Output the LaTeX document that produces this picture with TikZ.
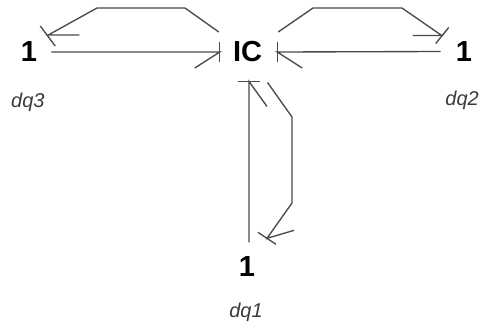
\documentclass[tikz,border=0pt]{standalone}
\usepackage{fontspec}
\setmainfont{Liberation Sans}
\usetikzlibrary{calc}
\definecolor{bondgray}{HTML}{4A4A4A}
\definecolor{labelgray}{HTML}{3A3A3A}
\tikzset{
  junction/.style={inner sep=0pt, font=\fontsize{29}{29}\selectfont\bfseries, text=black},
  varlabel/.style={inner sep=0pt, font=\fontsize{20}{20}\selectfont\itshape, text=labelgray},
  bond/.style={draw=bondgray, line width=1.35pt, line join=miter},
}
\begin{document}
\begin{tikzpicture}[x=1pt, y=-1pt]
\useasboundingbox (0,0) rectangle (480,333);

% elements
\node[junction] (ic) at (247.5,52) {IC};
\node[junction] (j3) at (29,52) {1};
\node[junction] (j2) at (464,51.5) {1};
\node[junction] (j1) at (247,266.5) {1};

\node[varlabel, anchor=west] (l3) at (11,102) {dq3};
\node[varlabel, anchor=east] (l2) at (479,100) {dq2};
\node[varlabel] (l1) at (246,312) {dq1};

% bond 1 --> IC on the left (causal stroke at IC)
\coordinate (a3) at ($(j3.east)+(14,0)$);
\coordinate (b3) at ($(ic.west)+(-13,0)$);
\draw[bond] (a3) -- (b3) -- ++(-25,16);
\draw[bond] ($(b3)+(0,-10)$) -- ($(b3)+(0,10)$);

% bond IC --> 1 on the left, routed over the top
\coordinate (c3) at ($(ic.west)+(-14,-20)$);
\coordinate (d3) at ($(j3.east)+(11,-17)$);
\draw[bond] (c3) -- (185,8) -- (97,8) -- (d3) -- ++(31,0);
\draw[bond] ($(d3)+(-8,-9)$) -- ($(d3)+(7,11)$);

% bond 1 --> IC on the right (causal stroke at IC)
\coordinate (a2) at ($(j2.west)+(-15,0)$);
\coordinate (b2) at ($(ic.east)+(15,0)$);
\draw[bond] (a2) -- (b2) -- ++(25,16);
\draw[bond] ($(b2)+(0,-10)$) -- ($(b2)+(0,10)$);

% bond IC --> 1 on the right, routed over the top
\coordinate (c2) at ($(ic.east)+(16,-20)$);
\coordinate (d2) at ($(j2.west)+(-14,-16)$);
\draw[bond] (c2) -- (313,8) -- (402,8) -- (d2) -- ++(-29,0);
\draw[bond] ($(d2)+(-6,8)$) -- ($(d2)+(7,-8)$);

% bond 1 --> IC from below (causal stroke at IC)
\coordinate (a1) at ($(j1.north)+(2,-14)$);
\coordinate (b1) at ($(ic.south)+(1.5,19)$);
\draw[bond] (a1) -- (b1) -- ++(18,25);
\draw[bond] ($(b1)+(-11,0)$) -- ($(b1)+(11,0)$);

% bond IC --> 1 below, routed along the right
\coordinate (c1) at ($(ic.south)+(20,20)$);
\coordinate (d1) at ($(j1.north)+(20,-18)$);
\draw[bond] (c1) -- (292,117) -- (292,203) -- (d1) -- ++(27,-8);
\draw[bond] ($(d1)+(-9,-6)$) -- ($(d1)+(9,6)$);
\end{tikzpicture}
\end{document}
